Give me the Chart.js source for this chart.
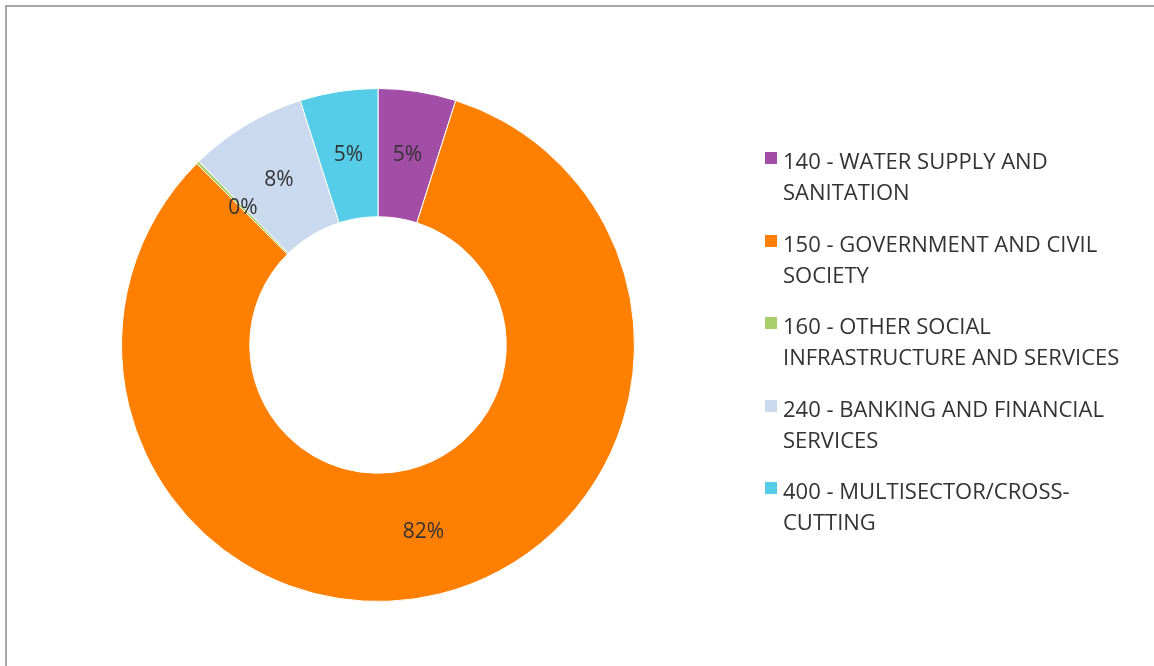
<!DOCTYPE html>
<html>
<head>
<meta charset="utf-8">
<script src="https://cdn.jsdelivr.net/npm/chart.js@4.4.1/dist/chart.umd.min.js"></script>
<style>
  html, body { margin: 0; padding: 0; background: #ffffff; overflow: hidden; }
  #wrap { position: relative; width: 1154px; height: 666px; }
  #frame { position: absolute; left: 5px; top: 5px; width: 1160px; height: 670px;
           border-top: 2px solid #a8a8a8; border-left: 2px solid #a8a8a8; box-sizing: border-box; }
  #c { position: absolute; left: 0; top: 0; }
  #legend { position: absolute; left: 765px; top: 0; font-family: "Open Sans", Lato, sans-serif;
            font-size: 22px; color: #333333; }
  .item { position: absolute; left: 0; width: 385px; }
  .box { position: absolute; left: 0; width: 12px; height: 12px; }
  .txt { position: absolute; left: 18px; line-height: 31px; white-space: nowrap; }
</style>
</head>
<body>
<div id="wrap">
  <div id="frame"></div>
  <canvas id="c" width="1154" height="666"></canvas>
  <div id="legend"></div>
</div>
<script>
// ---- data ----
const categories = [
  "140 - WATER SUPPLY AND SANITATION",
  "150 - GOVERNMENT AND CIVIL SOCIETY",
  "160 - OTHER SOCIAL INFRASTRUCTURE AND SERVICES",
  "240 - BANKING AND FINANCIAL SERVICES",
  "400 - MULTISECTOR/CROSS-CUTTING"
];
const legendLines = [
  ["140 - WATER SUPPLY AND", "SANITATION"],
  ["150 - GOVERNMENT AND CIVIL", "SOCIETY"],
  ["160 - OTHER SOCIAL", "INFRASTRUCTURE AND SERVICES"],
  ["240 - BANKING AND FINANCIAL", "SERVICES"],
  ["400 - MULTISECTOR/CROSS-", "CUTTING"]
];
const shares = [4.9, 82.6, 0.2, 7.4, 4.9];
const sliceLabels = ["5%", "82%", "0%", "8%", "5%"];
const colors = ["#a24ea6", "#ff8000", "#a8cf6a", "#cad9ee", "#56cde8"];

// ---- slice labels plugin ----
const labelPlugin = {
  id: 'sliceLabels',
  afterDatasetsDraw(chart) {
    const ctx = chart.ctx;
    const meta = chart.getDatasetMeta(0);
    ctx.save();
    ctx.font = '21px "Open Sans", Lato, sans-serif';
    ctx.fillStyle = '#333333';
    ctx.textAlign = 'center';
    ctx.textBaseline = 'middle';
    meta.data.forEach((arc, i) => {
      const p = arc.getCenterPoint();
      ctx.fillText(sliceLabels[i], p.x, p.y);
    });
    ctx.restore();
  }
};

new Chart(document.getElementById('c'), {
  type: 'doughnut',
  data: {
    labels: categories,
    datasets: [{
      data: shares,
      backgroundColor: colors,
      borderColor: '#ffffff',
      borderWidth: 1
    }]
  },
  options: {
    responsive: false,
    animation: false,
    cutout: '50%',
    layout: { padding: { left: 121, right: 519, top: 88, bottom: 64 } },
    plugins: { legend: { display: false }, tooltip: { enabled: false } }
  },
  plugins: [labelPlugin]
});

// ---- legend ----
const legendEl = document.getElementById('legend');
const firstY = 160.5, stepY = 82.5;
legendLines.forEach((lines, i) => {
  const cy = firstY + i * stepY;
  const item = document.createElement('div');
  item.className = 'item';
  item.style.top = (cy - 15.5) + 'px';
  const box = document.createElement('div');
  box.className = 'box';
  box.style.background = colors[i];
  box.style.top = '7px';
  const txt = document.createElement('div');
  txt.className = 'txt';
  txt.style.top = '0px';
  txt.innerHTML = lines.join('<br>');
  item.appendChild(box);
  item.appendChild(txt);
  legendEl.appendChild(item);
});
</script>
</body>
</html>
